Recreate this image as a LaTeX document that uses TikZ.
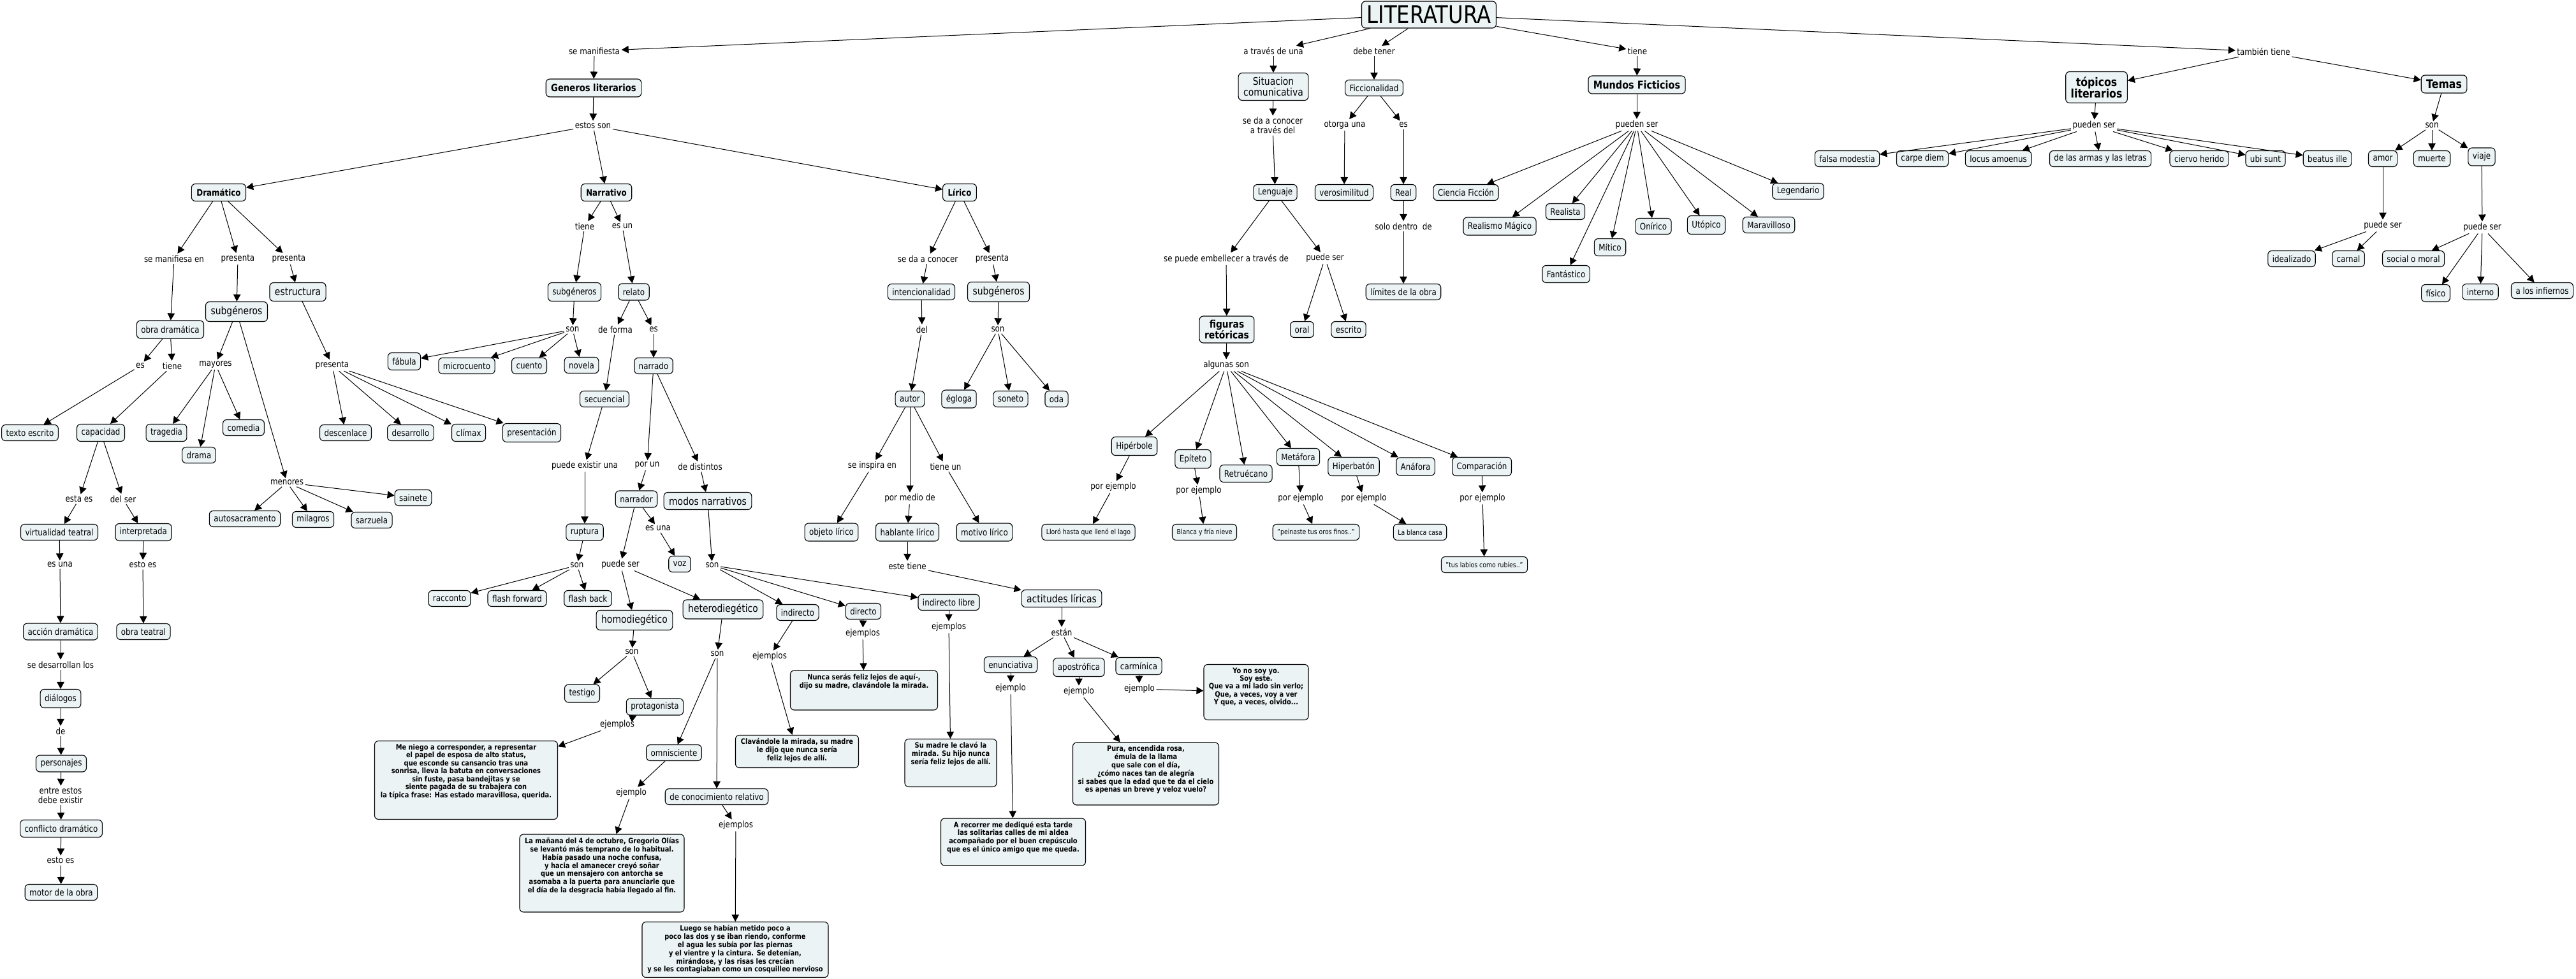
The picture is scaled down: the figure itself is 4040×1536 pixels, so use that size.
\documentclass[tikz,border=0pt]{standalone}
\usepackage{fontspec}
\setmainfont{DejaVu Sans}[FakeStretch=0.85]
\usetikzlibrary{arrows.meta}
\definecolor{boxfill}{RGB}{236,243,245}
\newcommand\fsN{\fontsize{14}{16}\selectfont}
\newcommand\fsL{\fontsize{16.4}{17}\selectfont}
\newcommand\fsS{\fontsize{11}{13}\selectfont}
\newcommand\fsEx{\fontsize{11.6}{12.3}\selectfont\bfseries}
\newcommand\exbody[3]{\begin{minipage}[c][#2pt][t]{#1pt}\centering\fsEx\vspace{3pt}\begin{tabular}{@{}c@{}}#3\end{tabular}\end{minipage}}
\begin{document}
\begin{tikzpicture}[x=1pt,y=-1pt,
  cbox/.style={draw=black, line width=1.1pt, fill=boxfill, rounded corners=6pt, inner xsep=7pt, inner ysep=4pt, minimum height=25pt, font=\fsN, align=center},
  cboxL/.style={cbox, font=\fsL, inner xsep=8pt, minimum height=29pt},
  cboxB/.style={cbox, font=\fsN\bfseries, inner xsep=8pt, minimum height=27pt},
  cboxS/.style={cbox, font=\fsS},
  exbox/.style={draw=black, line width=1.1pt, fill=boxfill, rounded corners=6pt, inner sep=2pt},
  lbl/.style={font=\fsN, inner sep=2.5pt, align=center},
  conn/.style={-{Triangle[length=11pt,width=11.5pt]}, line width=1pt}]
\fill[white] (0,0) rectangle (4040,1536);
\useasboundingbox (0,0) rectangle (4040,1536);

% ---------- top ----------
\node[cbox, font=\fontsize{38}{40}\selectfont, inner xsep=8pt, minimum height=42pt] (LIT) at (2241,23) {LITERATURA};
\node[lbl] (lSeManif) at (932,80) {se manifiesta};
\node[cboxB, font=\fontsize{15.5}{17}\selectfont\bfseries, minimum height=28pt] (Gen) at (931,138) {Generos literarios};
\node[lbl] (lEstos) at (930,197) {estos son};
\node[cboxB] (Dram) at (343,302) {Dramático};
\node[cboxB] (Narr) at (951,302) {Narrativo};
\node[cboxB] (Lir) at (1505,302) {Lírico};

% ---------- Dramatico ----------
\node[lbl] (lDsm) at (273,406) {se manifiesa en};
\node[lbl] (lDp1) at (373,406) {presenta};
\node[lbl] (lDp2) at (453,406) {presenta};
\node[cboxL] (Estr) at (467,458) {estructura};
\node[cboxL, minimum height=31pt] (SubD) at (371,489) {subgéneros};
\node[cbox, minimum height=28pt] (Obra) at (267,517) {obra dramática};
\node[lbl] (lOes) at (220,574) {es};
\node[lbl] (lOtiene) at (270,574) {tiene};
\node[lbl] (lMay) at (338,572) {mayores};
\node[lbl] (lEp) at (521,573) {presenta};
\node[cbox] (Texto) at (47,679) {texto escrito};
\node[cbox, minimum height=27pt] (Capac) at (158,679) {capacidad};
\node[cbox, minimum height=27pt] (Trag) at (261,679) {tragedia};
\node[cbox] (Drama) at (312,714) {drama};
\node[cbox] (Comedia) at (382,671) {comedia};
\node[cbox] (Desc) at (542,679) {descenlace};
\node[cbox] (Desa) at (644,679) {desarrollo};
\node[cbox, minimum height=27pt] (Clim) at (735,679) {clímax};
\node[cbox, minimum height=29pt] (Pres) at (834,679) {presentación};
\node[lbl] (lMen) at (450,757) {menores};
\node[cbox] (Sain) at (648,781) {sainete};
\node[cbox] (Auto) at (384,814) {autosacramento};
\node[cbox] (Milag) at (491,815) {milagros};
\node[cbox] (Sarz) at (583,816) {sarzuela};
\node[lbl] (lEstaEs) at (124,783) {esta es};
\node[lbl] (lDelSer) at (193,783) {del ser};
\node[cbox] (Virt) at (93,835) {virtualidad teatral};
\node[cbox, minimum height=27pt] (Interp) at (225,835) {interpretada};
\node[lbl] (lEsUna) at (94,886) {es una};
\node[lbl] (lEstoEs1) at (224,886) {esto es};
\node[cbox, minimum height=26pt] (Accion) at (95,991) {acción dramática};
\node[cbox] (ObraT) at (225,991) {obra teatral};
\node[lbl] (lSeDes) at (95,1043) {se desarrollan los};
\node[cbox, minimum height=29pt] (Dial) at (95,1096) {diálogos};
\node[lbl] (lDe) at (95,1147) {de};
\node[cbox, minimum height=26pt] (Pers) at (96,1198) {personajes};
\node[lbl, font=\fontsize{14}{15}\selectfont] (lEntre) at (95,1248) {entre estos\\debe existir};
\node[cbox, minimum height=27pt] (Confl) at (96,1300) {conflicto dramático};
\node[lbl] (lEstoEs2) at (95,1350) {esto es};
\node[cbox] (Motor) at (96,1400) {motor de la obra};

% ---------- Narrativo ----------
\node[lbl] (lNtiene) at (917,355) {tiene};
\node[lbl] (lNesun) at (976,355) {es un};
\node[cbox, minimum height=29pt] (SubN) at (901,458) {subgéneros};
\node[cbox, minimum height=26pt] (Relato) at (994,458) {relato};
\node[lbl] (lNson) at (898,517) {son};
\node[lbl] (lDeForma) at (965,517) {de forma};
\node[lbl] (lRes) at (1025,517) {es};
\node[cbox, minimum height=27pt] (Fabula) at (634,567) {fábula};
\node[cbox] (Micro) at (732,574) {microcuento};
\node[cbox] (Cuento) at (830,574) {cuento};
\node[cbox] (Novela) at (912,573) {novela};
\node[cbox] (Narrado) at (1025,574) {narrado};
\node[cbox] (Secu) at (948,626) {secuencial};
\node[lbl] (lPuedeEx) at (917,731) {puede existir una};
\node[lbl] (lPorUn) at (1015,730) {por un};
\node[lbl] (lDeDist) at (1098,732) {de distintos};
\node[cbox, minimum height=26pt] (Narrador) at (998,783) {narrador};
\node[cboxL, minimum height=27pt] (Modos) at (1110,786) {modos narrativos};
\node[cbox, minimum height=26pt] (Ruptura) at (917,835) {ruptura};
\node[lbl] (lEsUna2) at (1032,829) {es una};
\node[cbox] (Voz) at (1066,885) {voz};
\node[lbl] (lRson) at (905,887) {son};
\node[lbl] (lPuedeSer) at (973,886) {puede ser};
\node[lbl] (lMson) at (1117,887) {son};
\node[cbox] (Racc) at (705,939) {racconto};
\node[cbox] (FlashF) at (811,939) {flash forward};
\node[cbox] (FlashB) at (922,939) {flash back};
\node[cboxL, minimum height=31pt] (Homo) at (995,973) {homodiegético};
\node[cboxL, minimum height=30pt] (Hetero) at (1134,956) {heterodiegético};
\node[cbox] (Indir) at (1251,961) {indirecto};
\node[cbox] (Direct) at (1354,959) {directo};
\node[cbox] (IndLib) at (1488,945) {indirecto libre};
\node[lbl] (lHson) at (991,1023) {son};
\node[lbl] (lHeson) at (1125,1026) {son};
\node[lbl] (lEjInd) at (1207,1030) {ejemplos};
\node[lbl] (lEjDir) at (1353,994) {ejemplos};
\node[lbl] (lEjIL) at (1488,984) {ejemplos};
\node[cbox, minimum height=28pt] (Testigo) at (913,1088) {testigo};
\node[cbox, minimum height=26pt] (Protag) at (1027,1109) {protagonista};
\node[lbl] (lEjProt) at (968,1137) {ejemplos};
\node[exbox] (MeNiego) at (731,1224) {\exbody{283}{119}{Me niego a corresponder, a representar\\el papel de esposa de alto status,\\que esconde su cansancio tras una\\sonrisa, lleva la batuta en conversaciones\\sin fuste, pasa bandejitas y se\\siente pagada de su trabajera con\\la típica frase: Has estado maravillosa, querida.}};
\node[cbox] (Omni) at (1057,1181) {omnisciente};
\node[cbox] (ConRel) at (1124,1250) {de conocimiento relativo};
\node[lbl] (lEjOmni) at (990,1244) {ejemplo};
\node[lbl] (lEjCR) at (1154,1295) {ejemplos};
\node[exbox] (LaManana) at (944,1370) {\exbody{254}{118}{La mañana del 4 de octubre, Gregorio Olías\\se levantó más temprano de lo habitual.\\Había pasado una noche confusa,\\y hacia el amanecer creyó soñar\\que un mensajero con antorcha se\\asomaba a la puerta para anunciarle que\\el día de la desgracia había llegado al fin.}};
\node[exbox] (Luego) at (1153,1490) {\exbody{288}{83}{Luego se habían metido poco a\\poco las dos y se iban riendo, conforme\\el agua les subía por las piernas\\y el vientre y la cintura. Se detenían,\\mirándose, y las risas les crecían\\y se les contagiaban como un cosquilleo nervioso}};
\node[exbox] (Clav) at (1250,1179) {\exbody{189}{47}{Clavándole la mirada, su madre\\le dijo que nunca sería\\feliz lejos de allí.}};
\node[exbox] (Nunca) at (1355,1083) {\exbody{227}{58}{Nunca serás feliz lejos de aquí-,\\dijo su madre, clavándole la mirada.}};
\node[exbox] (SuMadre) at (1491,1197) {\exbody{140}{71}{Su madre le clavó la\\mirada. Su hijo nunca\\sería feliz lejos de allí.}};

% ---------- Lirico ----------
\node[lbl] (lLsdc) at (1455,406) {se da a conocer};
\node[lbl] (lLpres) at (1556,406) {presenta};
\node[cbox] (Intenc) at (1445,458) {intencionalidad};
\node[cboxL, minimum height=31pt] (SubL) at (1566,458) {subgéneros};
\node[lbl] (lDel) at (1446,517) {del};
\node[lbl] (lLson) at (1565,517) {son};
\node[cbox] (Autor) at (1427,626) {autor};
\node[cbox, minimum height=28pt] (Egloga) at (1504,626) {égloga};
\node[cbox] (Soneto) at (1585,626) {soneto};
\node[cbox] (Oda) at (1657,626) {oda};
\node[lbl] (lInsp) at (1368,731) {se inspira en};
\node[lbl] (lTieneUn) at (1483,732) {tiene un};
\node[lbl] (lPorMedio) at (1427,782) {por medio de};
\node[cbox, minimum height=28pt] (ObjL) at (1304,835) {objeto lírico};
\node[cbox, minimum height=28pt] (HabL) at (1423,835) {hablante lírico};
\node[cbox, minimum height=28pt] (MotL) at (1544,835) {motivo lírico};
\node[lbl] (lEsteTiene) at (1423,888) {este tiene};
\node[cboxL, minimum height=27pt] (Actit) at (1665,939) {actitudes líricas};
\node[lbl] (lEstan) at (1665,992) {están};
\node[cbox] (Enunc) at (1585,1043) {enunciativa};
\node[cbox, minimum height=29pt] (Apost) at (1692,1047) {apostrófica};
\node[cbox, minimum height=27pt] (Carm) at (1786,1045) {carmínica};
\node[lbl] (lEjEn) at (1585,1080) {ejemplo};
\node[lbl] (lEjAp) at (1692,1085) {ejemplo};
\node[lbl] (lEjCa) at (1787,1081) {ejemplo};
\node[exbox] (YoNo) at (1970,1086) {\exbody{160}{83}{Yo no soy yo.\\Soy este.\\Que va a mi lado sin verlo;\\Que, a veces, voy a ver\\Y que, a veces, olvido...}};
\node[exbox] (Pura) at (1797,1214) {\exbody{225}{94}{Pura, encendida rosa,\\émula de la llama\\que sale con el día,\\¿cómo naces tan de alegría\\si sabes que la edad que te da el cielo\\es apenas un breve y veloz vuelo?}};
\node[exbox] (ARec) at (1589,1321) {\exbody{223}{70}{A recorrer me dediqué esta tarde\\las solitarias calles de mi aldea\\acompañado por el buen crepúsculo\\que es el único amigo que me queda.}};

% ---------- Situacion / Ficcionalidad ----------
\node[lbl] (lAtraves) at (1997,80) {a través de una};
\node[lbl] (lDebe) at (2155,80) {debe tener};
\node[lbl] (lTiene) at (2568,80) {tiene};
\node[cboxL, font=\fontsize{16.4}{17}\selectfont, minimum height=43pt] (Situ) at (1997,136) {Situacion\\comunicativa};
\node[lbl, font=\fontsize{14}{15}\selectfont] (lSeDaAT) at (1996,197) {se da a conocer\\a través del};
\node[cbox] (Leng) at (2000,302) {Lenguaje};
\node[cbox] (Ficc) at (2155,138) {Ficcionalidad};
\node[lbl] (lOtorga) at (2109,196) {otorga una};
\node[lbl] (lEsF) at (2201,196) {es};
\node[cbox] (Veros) at (2108,302) {verosimilitud};
\node[cbox] (Real) at (2201,302) {Real};
\node[lbl] (lSolo) at (2201,355) {solo dentro\ \ de};
\node[cbox] (Limites) at (2201,458) {límites de la obra};
\node[lbl] (lEmbel) at (1923,406) {se puede embellecer a través de};
\node[lbl] (lPuedeSerL) at (2078,405) {puede ser};
\node[cboxB, font=\fontsize{16.3}{16}\selectfont\bfseries, minimum height=42pt] (Figuras) at (1924,517) {figuras\\retóricas};
\node[cbox] (Oral) at (2042,517) {oral};
\node[cbox] (Escrito) at (2115,517) {escrito};
\node[lbl] (lAlgunas) at (1923,573) {algunas son};
\node[cbox, minimum height=29pt] (Hiperb) at (1779,700) {Hipérbole};
\node[cbox, minimum height=29pt] (Epit) at (1871,720) {Epíteto};
\node[cbox, minimum height=27pt] (Retru) at (1954,743) {Retruécano};
\node[cbox, minimum height=27pt] (Metaf) at (2036,717) {Metáfora};
\node[cbox, minimum height=29pt] (Hiperbt) at (2123,732) {Hiperbatón};
\node[cbox, minimum height=28pt] (Anaf) at (2220,732) {Anáfora};
\node[cbox, minimum height=29pt] (Compar) at (2324,732) {Comparación};
\node[lbl] (lPE1) at (1746,764) {por ejemplo};
\node[lbl] (lPE2) at (1880,770) {por ejemplo};
\node[lbl] (lPE3) at (2040,782) {por ejemplo};
\node[lbl] (lPE4) at (2139,782) {por ejemplo};
\node[lbl] (lPE5) at (2325,782) {por ejemplo};
\node[cboxS] (Lloro) at (1707,835) {Lloró hasta que llenó el lago};
\node[cboxS] (Blanca) at (1889,835) {Blanca y fría nieve};
\node[cboxS] (Peinaste) at (2064,835) {"peinaste tus oros finos.."};
\node[cboxS] (LaBlanca) at (2227,835) {La blanca casa};
\node[cboxS] (TusLabios) at (2328,886) {"tus labios como rubíes.."};

% ---------- Mundos ficticios ----------
\node[cboxB, font=\fontsize{17}{18}\selectfont\bfseries, minimum height=28pt] (Mundos) at (2567,133) {Mundos Ficticios};
\node[lbl] (lPueden) at (2567,196) {pueden ser};
\node[cbox] (CF) at (2299,302) {Ciencia Ficción};
\node[cbox, minimum height=28pt] (RM) at (2352,355) {Realismo Mágico};
\node[cbox] (Realista) at (2455,332) {Realista};
\node[cbox, minimum height=27pt] (Mitico) at (2525,388) {Mítico};
\node[cbox, minimum height=27pt] (Fant) at (2456,430) {Fantástico};
\node[cbox] (Oniri) at (2593,355) {Onírico};
\node[cbox, minimum height=29pt] (Utop) at (2676,353) {Utópico};
\node[cbox] (Marav) at (2774,353) {Maravilloso};
\node[cbox] (Legend) at (2820,300) {Legendario};

% ---------- topicos / temas ----------
\node[lbl] (lTambien) at (3550,81) {también tiene};
\node[cboxB, font=\fontsize{18.5}{18}\selectfont\bfseries, minimum height=49pt] (Topicos) at (3288,137) {tópicos\\literarios};
\node[cboxB, font=\fontsize{18.5}{19}\selectfont\bfseries, minimum height=28pt] (Temas) at (3833,132) {Temas};
\node[lbl] (lPuedenT) at (3284,197) {pueden ser};
\node[lbl] (lSonT) at (3814,197) {son};
\node[cbox] (falsa) at (2897,249) {falsa modestia};
\node[cbox] (carpe) at (3015,249) {carpe diem};
\node[cbox] (locus) at (3134,249) {locus amoenus};
\node[cbox] (armas) at (3294,249) {de las armas y las letras};
\node[cbox] (ciervo) at (3449,249) {ciervo herido};
\node[cbox] (ubi) at (3553,249) {ubi sunt};
\node[cbox] (beatus) at (3650,249) {beatus ille};
\node[cbox] (amor) at (3737,249) {amor};
\node[cbox] (muerte) at (3814,249) {muerte};
\node[cbox, minimum height=28pt] (viaje) at (3892,246) {viaje};
\node[lbl] (lPSamor) at (3737,354) {puede ser};
\node[lbl] (lPSviaje) at (3893,357) {puede ser};
\node[cbox] (ideal) at (3594,406) {idealizado};
\node[cbox] (carnal) at (3683,406) {carnal};
\node[cbox] (social) at (3785,406) {social o moral};
\node[cbox, minimum height=27pt] (fisico) at (3820,460) {físico};
\node[cbox] (interno) at (3890,458) {interno};
\node[cbox] (infiernos) at (3987,456) {a los infiernos};

% ---------- connectors ----------
\foreach \a/\b in {LIT/lSeManif, lSeManif/Gen, Gen/lEstos, lEstos/Dram, lEstos/Narr, lEstos/Lir,
  LIT/lAtraves, lAtraves/Situ, Situ/lSeDaAT, lSeDaAT/Leng, Leng/lEmbel, lEmbel/Figuras, Leng/lPuedeSerL, lPuedeSerL/Oral, lPuedeSerL/Escrito,
  Figuras/lAlgunas, lAlgunas/Hiperb, lAlgunas/Epit, lAlgunas/Retru, lAlgunas/Metaf, lAlgunas/Hiperbt, lAlgunas/Anaf, lAlgunas/Compar,
  Hiperb/lPE1, lPE1/Lloro, Epit/lPE2, lPE2/Blanca, Metaf/lPE3, lPE3/Peinaste, Hiperbt/lPE4, lPE4/LaBlanca, Compar/lPE5, lPE5/TusLabios,
  LIT/lDebe, lDebe/Ficc, Ficc/lOtorga, lOtorga/Veros, Ficc/lEsF, lEsF/Real, Real/lSolo, lSolo/Limites,
  LIT/lTiene, lTiene/Mundos, Mundos/lPueden, lPueden/CF, lPueden/RM, lPueden/Realista, lPueden/Mitico, lPueden/Fant, lPueden/Oniri, lPueden/Utop, lPueden/Marav, lPueden/Legend,
  LIT/lTambien, lTambien/Topicos, lTambien/Temas, Topicos/lPuedenT, lPuedenT/falsa, lPuedenT/carpe, lPuedenT/locus, lPuedenT/armas, lPuedenT/ciervo, lPuedenT/ubi, lPuedenT/beatus,
  Temas/lSonT, lSonT/amor, lSonT/muerte, lSonT/viaje, amor/lPSamor, lPSamor/ideal, lPSamor/carnal, viaje/lPSviaje, lPSviaje/social, lPSviaje/fisico, lPSviaje/interno, lPSviaje/infiernos,
  Dram/lDsm, lDsm/Obra, Dram/lDp1, lDp1/SubD, Dram/lDp2, lDp2/Estr, Obra/lOes, lOes/Texto, Obra/lOtiene, lOtiene/Capac,
  Capac/lEstaEs, lEstaEs/Virt, Capac/lDelSer, lDelSer/Interp, Virt/lEsUna, lEsUna/Accion, Interp/lEstoEs1, lEstoEs1/ObraT,
  Accion/lSeDes, lSeDes/Dial, Dial/lDe, lDe/Pers, Pers/lEntre, lEntre/Confl, Confl/lEstoEs2, lEstoEs2/Motor,
  SubD/lMay, lMay/Trag, lMay/Drama, lMay/Comedia, SubD/lMen, lMen/Auto, lMen/Milag, lMen/Sarz, lMen/Sain,
  Estr/lEp, lEp/Desc, lEp/Desa, lEp/Clim, lEp/Pres,
  Narr/lNtiene, lNtiene/SubN, Narr/lNesun, lNesun/Relato, SubN/lNson, lNson/Fabula, lNson/Micro, lNson/Cuento, lNson/Novela,
  Relato/lDeForma, lDeForma/Secu, Relato/lRes, lRes/Narrado, Secu/lPuedeEx, lPuedeEx/Ruptura, Ruptura/lRson, lRson/Racc, lRson/FlashF, lRson/FlashB,
  Narrado/lPorUn, lPorUn/Narrador, Narrado/lDeDist, lDeDist/Modos, Narrador/lEsUna2, lEsUna2/Voz, Narrador/lPuedeSer, lPuedeSer/Homo, lPuedeSer/Hetero,
  Homo/lHson, lHson/Testigo, lHson/Protag, lEjProt/Protag, lEjProt/MeNiego, Hetero/lHeson, lHeson/Omni, lHeson/ConRel,
  Omni/lEjOmni, lEjOmni/LaManana, ConRel/lEjCR, lEjCR/Luego, Modos/lMson, lMson/Indir, lMson/Direct, lMson/IndLib,
  Indir/lEjInd, lEjInd/Clav, Direct/lEjDir, lEjDir/Nunca, IndLib/lEjIL, lEjIL/SuMadre,
  Lir/lLsdc, lLsdc/Intenc, Lir/lLpres, lLpres/SubL, Intenc/lDel, lDel/Autor, SubL/lLson, lLson/Egloga, lLson/Soneto, lLson/Oda,
  Autor/lInsp, lInsp/ObjL, Autor/lPorMedio, lPorMedio/HabL, Autor/lTieneUn, lTieneUn/MotL, HabL/lEsteTiene, lEsteTiene/Actit,
  Actit/lEstan, lEstan/Enunc, lEstan/Apost, lEstan/Carm, Enunc/lEjEn, lEjEn/ARec, Apost/lEjAp, lEjAp/Pura, Carm/lEjCa, lEjCa/YoNo}
  \draw[conn] (\a) -- (\b);
\end{tikzpicture}
\end{document}
